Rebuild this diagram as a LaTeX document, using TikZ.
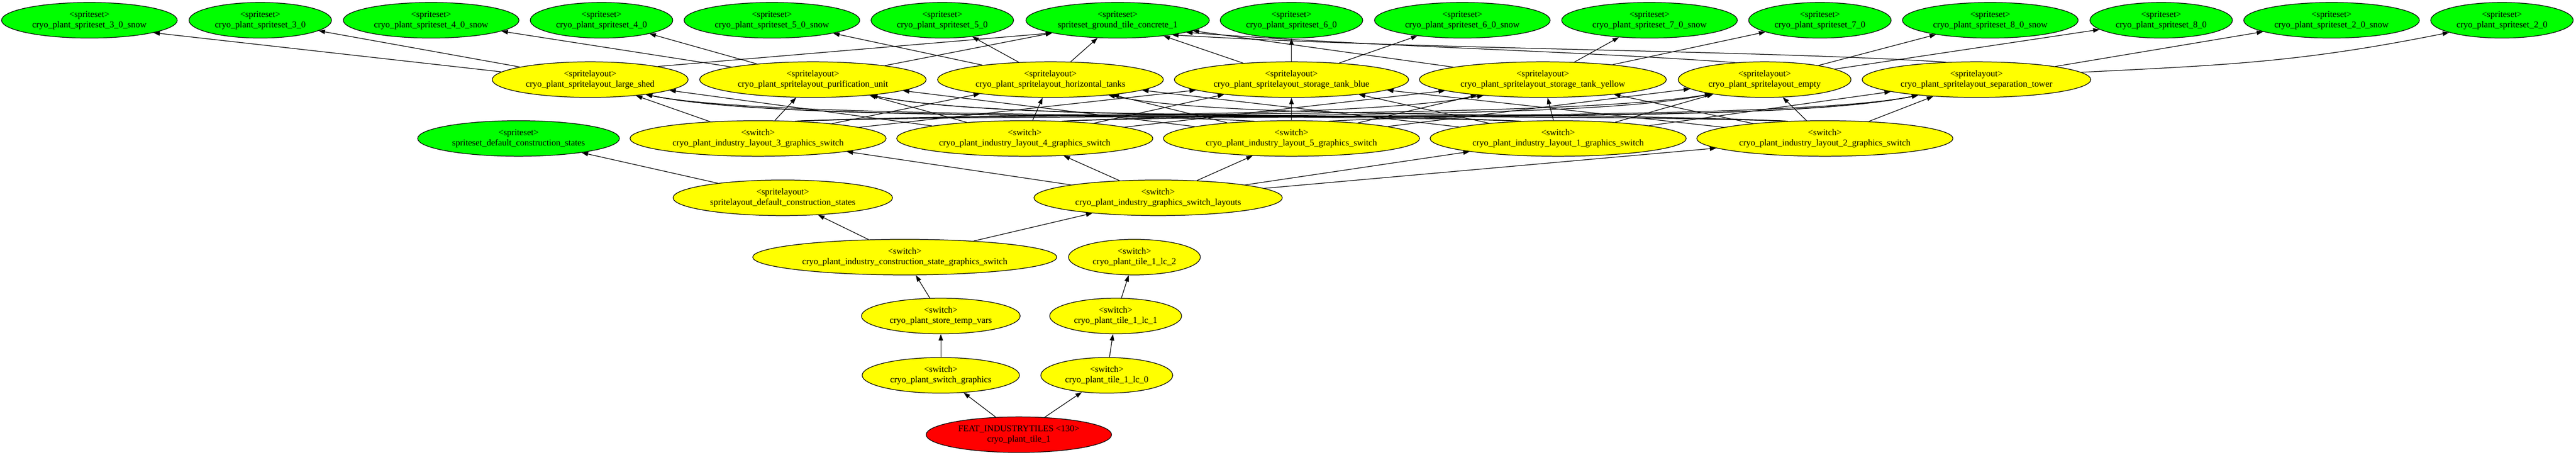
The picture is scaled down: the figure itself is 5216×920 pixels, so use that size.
\documentclass[tikz,border=0pt]{standalone}
\usepackage{fontspec}
\setmainfont{Liberation Serif}
\usetikzlibrary{shapes.geometric}
\usetikzlibrary{arrows.meta}

\definecolor{gvgreen}{RGB}{0,255,0}
\definecolor{gvyellow}{RGB}{255,255,0}
\definecolor{gvred}{RGB}{255,0,0}

\tikzset{
  gvnode/.style={ellipse,draw=black,line width=1.3pt,align=center,
    inner xsep=10pt,inner ysep=6pt,minimum height=72pt,
    font=\fontsize{18.2}{21}\selectfont},
  spriteset/.style={gvnode,fill=gvgreen},
  spritelayout/.style={gvnode,fill=gvyellow},
  switchnode/.style={gvnode,fill=gvyellow},
  featnode/.style={gvnode,fill=gvred},
  gvedge/.style={line width=1.3pt,-{Triangle[length=13pt,width=9pt]}}
}

\begin{document}
\begin{tikzpicture}[x=1pt,y=-1pt]
    \useasboundingbox (0,0) rectangle (5216,920);

    \node[spriteset] (s30snow) at (181,41) {<spriteset>\\cryo\_plant\_spriteset\_3\_0\_snow};
    \node[spriteset] (s30) at (527,41) {<spriteset>\\cryo\_plant\_spriteset\_3\_0};
    \node[spriteset] (s40snow) at (873,41) {<spriteset>\\cryo\_plant\_spriteset\_4\_0\_snow};
    \node[spriteset] (s40) at (1218,41) {<spriteset>\\cryo\_plant\_spriteset\_4\_0};
    \node[spriteset] (s50snow) at (1563,41) {<spriteset>\\cryo\_plant\_spriteset\_5\_0\_snow};
    \node[spriteset] (s50) at (1908,41) {<spriteset>\\cryo\_plant\_spriteset\_5\_0};
    \node[spriteset] (concrete) at (2263,41) {<spriteset>\\spriteset\_ground\_tile\_concrete\_1};
    \node[spriteset] (s60) at (2615,41) {<spriteset>\\cryo\_plant\_spriteset\_6\_0};
    \node[spriteset] (s60snow) at (2961,41) {<spriteset>\\cryo\_plant\_spriteset\_6\_0\_snow};
    \node[spriteset] (s70snow) at (3340,41) {<spriteset>\\cryo\_plant\_spriteset\_7\_0\_snow};
    \node[spriteset] (s70) at (3685,41) {<spriteset>\\cryo\_plant\_spriteset\_7\_0};
    \node[spriteset] (s80snow) at (4030,41) {<spriteset>\\cryo\_plant\_spriteset\_8\_0\_snow};
    \node[spriteset] (s80) at (4376,41) {<spriteset>\\cryo\_plant\_spriteset\_8\_0};
    \node[spriteset] (s20snow) at (4721,41) {<spriteset>\\cryo\_plant\_spriteset\_2\_0\_snow};
    \node[spriteset] (s20) at (5066,41) {<spriteset>\\cryo\_plant\_spriteset\_2\_0};

    \node[spritelayout] (shed) at (1195,161) {<spritelayout>\\cryo\_plant\_spritelayout\_large\_shed};
    \node[spritelayout] (purif) at (1646,161) {<spritelayout>\\cryo\_plant\_spritelayout\_purification\_unit};
    \node[spritelayout] (htanks) at (2127,161) {<spritelayout>\\cryo\_plant\_spritelayout\_horizontal\_tanks};
    \node[spritelayout] (tblue) at (2615,161) {<spritelayout>\\cryo\_plant\_spritelayout\_storage\_tank\_blue};
    \node[spritelayout] (tyellow) at (3124,161) {<spritelayout>\\cryo\_plant\_spritelayout\_storage\_tank\_yellow};
    \node[spritelayout] (empty) at (3573,161) {<spritelayout>\\cryo\_plant\_spritelayout\_empty};
    \node[spritelayout] (tower) at (4002,161) {<spritelayout>\\cryo\_plant\_spritelayout\_separation\_tower};

    \node[spriteset] (defstates) at (1050,280) {<spriteset>\\spriteset\_default\_construction\_states};
    \node[switchnode] (lay3) at (1535,280) {<switch>\\cryo\_plant\_industry\_layout\_3\_graphics\_switch};
    \node[switchnode] (lay4) at (2075,280) {<switch>\\cryo\_plant\_industry\_layout\_4\_graphics\_switch};
    \node[switchnode] (lay5) at (2615,280) {<switch>\\cryo\_plant\_industry\_layout\_5\_graphics\_switch};
    \node[switchnode] (lay1) at (3155,280) {<switch>\\cryo\_plant\_industry\_layout\_1\_graphics\_switch};
    \node[switchnode] (lay2) at (3695,280) {<switch>\\cryo\_plant\_industry\_layout\_2\_graphics\_switch};

    \node[spritelayout] (defsl) at (1585,400) {<spritelayout>\\spritelayout\_default\_construction\_states};
    \node[switchnode] (layouts) at (2345,400) {<switch>\\cryo\_plant\_industry\_graphics\_switch\_layouts};
    \node[switchnode] (constate) at (1832,520) {<switch>\\cryo\_plant\_industry\_construction\_state\_graphics\_switch};
    \node[switchnode] (lc2) at (2297,520) {<switch>\\cryo\_plant\_tile\_1\_lc\_2};
    \node[switchnode] (tempvars) at (1905,639) {<switch>\\cryo\_plant\_store\_temp\_vars};
    \node[switchnode] (lc1) at (2259,639) {<switch>\\cryo\_plant\_tile\_1\_lc\_1};
    \node[switchnode] (swgfx) at (1905,759) {<switch>\\cryo\_plant\_switch\_graphics};
    \node[switchnode] (lc0) at (2241,759) {<switch>\\cryo\_plant\_tile\_1\_lc\_0};
    \node[featnode] (tile) at (2063,879) {FEAT\_INDUSTRYTILES <130>\\cryo\_plant\_tile\_1};

    \draw[gvedge] (tile) -- (swgfx);
    \draw[gvedge] (tile) -- (lc0);
    \draw[gvedge] (lc0) -- (lc1);
    \draw[gvedge] (lc1) -- (lc2);
    \draw[gvedge] (swgfx) -- (tempvars);
    \draw[gvedge] (tempvars) -- (constate);
    \draw[gvedge] (constate) -- (defsl);
    \draw[gvedge] (constate) -- (layouts);
    \draw[gvedge] (defsl) -- (defstates);

    \draw[gvedge] (layouts) -- (lay3);
    \draw[gvedge] (layouts) -- (lay4);
    \draw[gvedge] (layouts) -- (lay5);
    \draw[gvedge] (layouts) -- (lay1);
    \draw[gvedge] (layouts) -- (lay2);

    \draw[gvedge] (lay3) -- (shed);
    \draw[gvedge] (lay3) -- (purif);
    \draw[gvedge] (lay3) -- (htanks);
    \draw[gvedge] (lay3) -- (tblue);
    \draw[gvedge] (lay3.25) .. controls +(500,-20) and +(-300,50) .. (tyellow.195);
    \draw[gvedge] (lay3.25) .. controls +(600,-20) and +(-300,50) .. (empty.195);
    \draw[gvedge] (lay3.25) .. controls +(600,-20) and +(-300,60) .. (tower.195);
    \draw[gvedge] (lay4) -- (shed);
    \draw[gvedge] (lay4) -- (purif);
    \draw[gvedge] (lay4) -- (htanks);
    \draw[gvedge] (lay4) -- (tblue);
    \draw[gvedge] (lay4) -- (tyellow);
    \draw[gvedge] (lay4.25) .. controls +(450,-20) and +(-250,50) .. (empty.195);
    \draw[gvedge] (lay4.25) .. controls +(550,-20) and +(-300,60) .. (tower.195);
    \draw[gvedge] (lay5.155) .. controls +(-400,-20) and +(250,50) .. (shed.345);
    \draw[gvedge] (lay5) -- (purif);
    \draw[gvedge] (lay5) -- (htanks);
    \draw[gvedge] (lay5) -- (tblue);
    \draw[gvedge] (lay5) -- (tyellow);
    \draw[gvedge] (lay5) -- (empty);
    \draw[gvedge] (lay5.25) .. controls +(400,-20) and +(-250,50) .. (tower.195);
    \draw[gvedge] (lay1.155) .. controls +(-600,-20) and +(300,60) .. (shed.345);
    \draw[gvedge] (lay1.155) .. controls +(-450,-20) and +(250,50) .. (purif.345);
    \draw[gvedge] (lay1) -- (htanks);
    \draw[gvedge] (lay1) -- (tblue);
    \draw[gvedge] (lay1) -- (tyellow);
    \draw[gvedge] (lay1) -- (empty);
    \draw[gvedge] (lay1) -- (tower);
    \draw[gvedge] (lay2.155) .. controls +(-600,-20) and +(300,60) .. (shed.345);
    \draw[gvedge] (lay2.155) .. controls +(-600,-20) and +(300,60) .. (purif.345);
    \draw[gvedge] (lay2.155) .. controls +(-450,-20) and +(250,50) .. (htanks.345);
    \draw[gvedge] (lay2) -- (tblue);
    \draw[gvedge] (lay2) -- (tyellow);
    \draw[gvedge] (lay2) -- (empty);
    \draw[gvedge] (lay2) -- (tower);

    \draw[gvedge] (shed.175) -- (s30snow.349);
    \draw[gvedge] (shed) -- (s30);
    \draw[gvedge] (shed.11) -- (concrete.191);
    \draw[gvedge] (purif) -- (s40snow);
    \draw[gvedge] (purif) -- (s40);
    \draw[gvedge] (purif) -- (concrete);
    \draw[gvedge] (htanks) -- (s50snow);
    \draw[gvedge] (htanks) -- (s50);
    \draw[gvedge] (htanks) -- (concrete);
    \draw[gvedge] (tblue) -- (s60);
    \draw[gvedge] (tblue) -- (s60snow);
    \draw[gvedge] (tblue) -- (concrete);
    \draw[gvedge] (tyellow) -- (s70snow);
    \draw[gvedge] (tyellow) -- (s70);
    \draw[gvedge] (tyellow) -- (concrete);
    \draw[gvedge] (empty) -- (s80snow);
    \draw[gvedge] (empty) -- (s80);
    \draw[gvedge] (empty.150) .. controls +(-350,-25) and +(400,30) .. (concrete.350);
    \draw[gvedge] (tower) -- (s20snow);
    \draw[gvedge] (tower.4) .. controls +(300,-15) and +(-300,60) .. (s20.193);
    \draw[gvedge] (tower.150) .. controls +(-400,-25) and +(500,30) .. (concrete.345);
\end{tikzpicture}
\end{document}
